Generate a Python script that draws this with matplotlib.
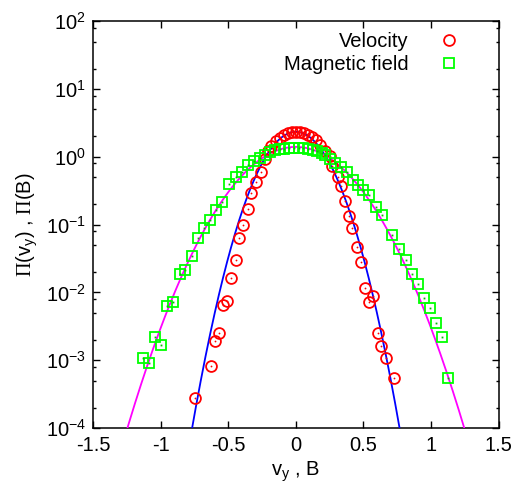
import numpy as np
import matplotlib
matplotlib.use("Agg")
import matplotlib.pyplot as plt
from matplotlib.ticker import FixedLocator, NullFormatter, NullLocator

# --- data ---
vel_x = [-0.749, -0.629, -0.599, -0.570, -0.538, -0.508, -0.481, -0.446, -0.419,
         -0.387, -0.357, -0.331, -0.296, -0.261, -0.229, -0.207, -0.18, -0.15,
         -0.12, -0.09, -0.06, -0.03, 0.0, 0.03, 0.06, 0.09, 0.12, 0.15, 0.18,
         0.214, 0.251, 0.271, 0.308, 0.333, 0.362, 0.392, 0.416, 0.453, 0.481,
         0.513, 0.542, 0.572, 0.604, 0.629, 0.663, 0.725]
vel_p = [2.74e-4, 8.2e-4, 1.9e-3, 2.49e-3, 6.6e-3, 7.5e-3, 0.0164, 0.0303, 0.064,
         0.098, 0.168, 0.295, 0.43, 0.60, 0.92, 1.21, 1.45, 1.70,
         1.92, 2.10, 2.22, 2.30, 2.33, 2.32, 2.25, 2.12, 1.95, 1.75, 1.50,
         1.22, 1.02, 0.73, 0.50, 0.37, 0.224, 0.134, 0.089, 0.0462, 0.028,
         0.0116, 0.00713, 0.00893, 0.00249, 0.00164, 0.0011, 0.00055]

mag_x = [-1.129, -1.085, -1.038, -0.999, -0.949, -0.910, -0.858, -0.816, -0.769,
         -0.72, -0.680, -0.636, -0.589, -0.545, -0.493, -0.444, -0.397, -0.355,
         -0.311, -0.266, -0.227, -0.19, -0.155, -0.12, -0.085, -0.05, -0.015,
         0.02, 0.055, 0.09, 0.125, 0.16, 0.19, 0.214, 0.25, 0.288, 0.333, 0.375,
         0.424, 0.46, 0.498, 0.542, 0.590, 0.634, 0.708, 0.764, 0.811, 0.856,
         0.900, 0.949, 0.991, 1.038, 1.080, 1.126]
mag_p = [0.0011, 0.00092, 0.00222, 0.00166, 0.00629, 0.00721, 0.0185, 0.0214, 0.0344,
         0.063, 0.0898, 0.1167, 0.164, 0.217, 0.392, 0.497, 0.601, 0.755,
         0.865, 0.947, 1.08, 1.17, 1.24, 1.29, 1.32, 1.33, 1.34,
         1.34, 1.33, 1.31, 1.27, 1.20, 1.12, 1.06, 0.92, 0.80, 0.71, 0.60,
         0.453, 0.38, 0.323, 0.272, 0.183, 0.138, 0.070, 0.0435, 0.030, 0.0187,
         0.0132, 0.00826, 0.00582, 0.0035, 0.00222, 0.00055]

# gaussian fits (mean, sigma)
vel_fit = (0.0, 0.171)
mag_fit = (0.0, 0.285)

x_ticks = [-1.5, -1, -0.5, 0, 0.5, 1, 1.5]
x_tick_labels = ["-1.5", "-1", "-0.5", "0", "0.5", "1", "1.5"]


def gauss(x, mu, sig):
    return np.exp(-(x - mu) ** 2 / (2 * sig ** 2)) / (sig * np.sqrt(2 * np.pi))


FS = 14.5

plt.rcParams["font.family"] = ["Liberation Sans", "DejaVu Sans"]
plt.rcParams["mathtext.fontset"] = "custom"
plt.rcParams["mathtext.rm"] = "Liberation Serif"
plt.rcParams["mathtext.sf"] = "Liberation Sans"
plt.rcParams["mathtext.it"] = "Liberation Sans:italic"

fig = plt.figure(figsize=(5.25, 4.91), dpi=100)
ax = fig.add_axes([0.177, 0.128, 0.773, 0.829])

xs = np.linspace(-1.5, 1.5, 600)
ax.plot(xs, gauss(xs, *vel_fit), color="#0000ff", lw=1.3, zorder=3)
ax.plot(xs, gauss(xs, *mag_fit), color="#ff00ff", lw=1.3, zorder=3)

ax.plot(vel_x, vel_p, ls="none", marker="o", ms=7.8, mfc="none", mec="#ff0000",
        mew=1.3, zorder=4, label="Velocity")
ax.plot(vel_x, vel_p, ls="none", marker="o", ms=1.3, mfc="#ff0000", mec="#ff0000",
        mew=0, zorder=4)
ax.plot(mag_x, mag_p, ls="none", marker="s", ms=7.5, mfc="none", mec="#00ff00",
        mew=1.3, zorder=4, label="Magnetic field")
ax.plot(mag_x, mag_p, ls="none", marker="s", ms=1.3, mfc="#00c000", mec="#00c000",
        mew=0, zorder=4)

ax.set_yscale("log")
ax.set_xlim(-1.5, 1.5)
ax.set_ylim(1e-4, 1e2)
ax.set_xticks(x_ticks)
ax.set_xticklabels(x_tick_labels)
ax.xaxis.set_minor_locator(NullLocator())
minor = [m * 10.0 ** e for e in range(-4, 2) for m in (2, 5, 8)]
ax.yaxis.set_minor_locator(FixedLocator(minor))
ax.yaxis.set_minor_formatter(NullFormatter())
ax.tick_params(which="both", direction="in", top=True, right=True, labelsize=FS)
ax.tick_params(which="major", length=5, width=1)
ax.tick_params(which="minor", length=2.5, width=1)
ax.tick_params(axis="x", pad=6)
ax.tick_params(axis="y", pad=5)
for s in ax.spines.values():
    s.set_linewidth(1.1)

ax.set_xlabel(r"v$_\mathsf{y}$ , B", fontsize=FS, labelpad=3)
ax.set_ylabel(r"$\Pi$(v$_\mathsf{y}$) , $\Pi$(B)", fontsize=FS, labelpad=4)

ax.legend(loc="upper right", bbox_to_anchor=(0.947, 1.017), frameon=False,
          markerfirst=False, handlelength=1.0, handletextpad=1.5,
          labelspacing=0.2, fontsize=FS)

fig.savefig("out.png", dpi=100)
